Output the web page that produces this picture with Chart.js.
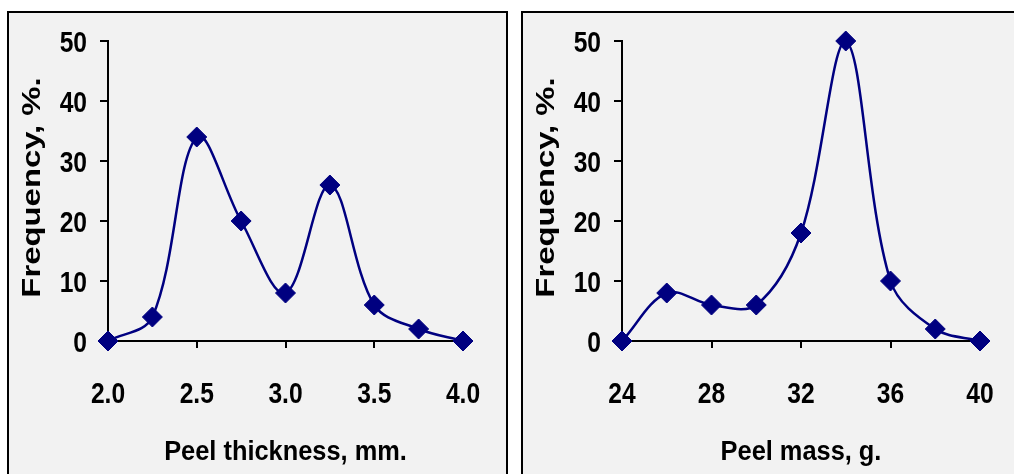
<!DOCTYPE html>
<html><head><meta charset="utf-8">
<script src="https://cdn.jsdelivr.net/npm/chart.js@4/dist/chart.umd.min.js"></script>
<style>
html,body{margin:0;padding:0;background:#fff;overflow:hidden;width:1014px;height:474px;}
.panel{position:absolute;top:11px;height:490px;border:2px solid #000;background:#f2f2f2;box-sizing:border-box;}
#p1{left:7px;width:501px;}
#p2{left:521px;width:520px;}
canvas{position:absolute;left:0;top:0;}
</style></head><body>
<div class="panel" id="p1"><canvas id="c1" width="497" height="461" style="width:497px;height:461px"></canvas></div>
<div class="panel" id="p2"><canvas id="c2" width="491" height="461" style="width:491px;height:461px"></canvas></div>
<script>
// ---- data ----
const thicknessX = [2.0, 2.25, 2.5, 2.75, 3.0, 3.25, 3.5, 3.75, 4.0];
const thicknessFreq = [0, 4, 34, 20, 8, 26, 6, 2, 0];
const massX = [24, 26, 28, 30, 32, 34, 36, 38, 40];
const massFreq = [0, 8, 6, 6, 18, 50, 10, 2, 0];
const yTicks = [0, 10, 20, 30, 40, 50];
const thicknessTicks = [2.0, 2.5, 3.0, 3.5, 4.0];
const massTicks = [24, 28, 32, 36, 40];
const yTitle = 'Frequency, %.';
const xTitleLeft = 'Peel thickness, mm.';
const xTitleRight = 'Peel mass, g.';

const NAVY = '#000080';
const TICK_FONT = 'bold 30px "Liberation Sans", Arial, sans-serif';
const TITLE_FONT_X = 'bold 27px "Liberation Sans", Arial, sans-serif';
const TITLE_FONT_Y = 'bold 26.5px "Liberation Sans", Arial, sans-serif';

// Draws tick labels (condensed, like Arial Narrow) and axis titles
const labelPlugin = {
  id: 'axisLabels',
  afterDraw(chart, args, o) {
    const ctx = chart.ctx, a = chart.chartArea;
    const xs = chart.scales.x, ys = chart.scales.y;
    ctx.save();
    ctx.fillStyle = '#000';
    ctx.font = TICK_FONT;
    ctx.textBaseline = 'alphabetic';
    // y tick labels
    ctx.textAlign = 'right';
    ys.ticks.forEach(t => {
      ctx.save();
      ctx.translate(a.left - 21, ys.getPixelForValue(t.value) + 10.5);
      ctx.scale(0.82, 1);
      ctx.fillText(String(t.value), 0, 0);
      ctx.restore();
    });
    // x tick labels
    ctx.textAlign = 'center';
    xs.ticks.forEach(t => {
      ctx.save();
      ctx.translate(xs.getPixelForValue(t.value), a.bottom + 62);
      ctx.scale(0.82, 1);
      ctx.fillText(o.fmt(t.value), 0, 0);
      ctx.restore();
    });
    // x title
    ctx.save();
    ctx.font = TITLE_FONT_X;
    ctx.textAlign = 'center';
    ctx.translate((a.left + a.right) / 2, o.xBaseline);
    ctx.scale(0.94, 1);
    ctx.fillText(o.xText, 0, 0);
    ctx.restore();
    // y title
    ctx.save();
    ctx.font = TITLE_FONT_Y;
    ctx.textAlign = 'center';
    ctx.translate(o.yBaseline, o.yCenter);
    ctx.rotate(-Math.PI / 2);
    ctx.scale(1.24, 1);
    ctx.fillText(o.yText, 0, 0);
    ctx.restore();
    ctx.restore();
  }
};

function makeChart(id, xs, ys, xTicks, xTitle, fmt, padRight) {
  const xmin = xTicks[0], xmax = xTicks[xTicks.length - 1];
  return new Chart(document.getElementById(id), {
    type: 'line',
    data: {
      datasets: [{
        data: xs.map((x, i) => ({x: x, y: ys[i]})),
        borderColor: NAVY,
        borderWidth: 2.5,
        backgroundColor: NAVY,
        pointStyle: 'rectRot',
        pointRadius: 10,
        pointBorderWidth: 1,
        pointBorderColor: NAVY,
        pointBackgroundColor: NAVY,
        tension: 0.35,
        fill: false,
        clip: false
      }]
    },
    options: {
      responsive: false,
      animation: false,
      events: [],
      layout: {padding: {top: 28, right: padRight, left: 0, bottom: 0}},
      plugins: {
        legend: {display: false},
        tooltip: {enabled: false},
        axisLabels: {fmt: fmt, xText: xTitle, yText: yTitle, xBaseline: 447, yBaseline: 31, yCenter: 174.5}
      },
      scales: {
        x: {
          type: 'linear', min: xmin, max: xmax,
          afterBuildTicks: s => { s.ticks = xTicks.map(v => ({value: v})); },
          ticks: {display: false},
          grid: {drawOnChartArea: false, drawTicks: true, tickLength: 7, color: '#000', lineWidth: 2},
          border: {display: true, color: '#000', width: 2},
          afterFit: s => { s.height = 133; }
        },
        y: {
          min: 0, max: 50,
          afterBuildTicks: s => { s.ticks = yTicks.map(v => ({value: v})); },
          ticks: {display: false},
          grid: {drawOnChartArea: false, drawTicks: true, tickLength: 8, color: '#000', lineWidth: 2},
          border: {display: true, color: '#000', width: 2},
          afterFit: s => { s.width = 99; }
        }
      }
    },
    plugins: [labelPlugin]
  });
}

makeChart('c1', thicknessX, thicknessFreq, thicknessTicks, xTitleLeft, v => Number(v).toFixed(1), 43);
makeChart('c2', massX, massFreq, massTicks, xTitleRight, v => String(v), 34);
</script>
</body></html>
